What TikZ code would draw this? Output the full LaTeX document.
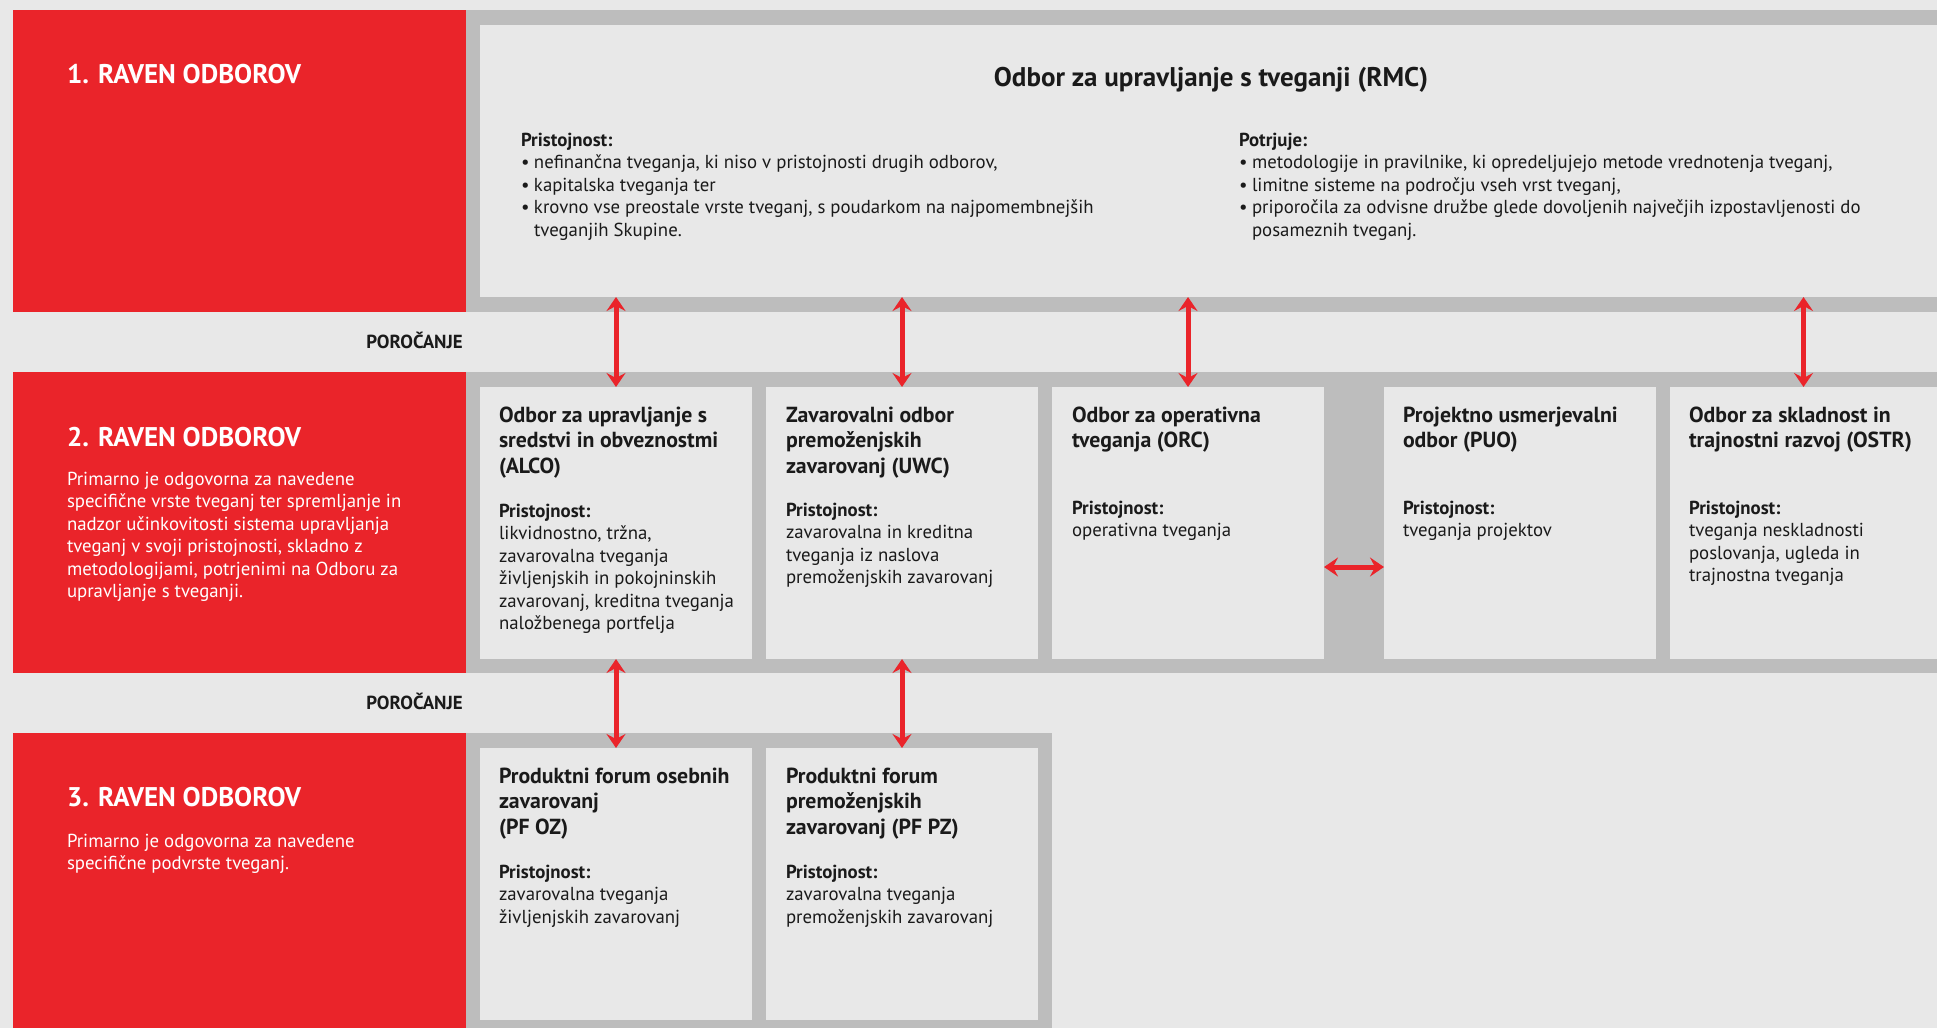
\documentclass[tikz,border=0pt]{standalone}
\usepackage{fontspec}
\setmainfont{PT Sans}
\usetikzlibrary{arrows.meta,calc}
\definecolor{rred}{HTML}{EA242A}
\definecolor{bandgray}{HTML}{BDBDBD}
\definecolor{bgl}{HTML}{E8E8E8}
\definecolor{ink}{HTML}{1A1A1A}
\newcommand{\tbx}[2]{\parbox[t]{#1}{\raggedright #2}}
\newcommand{\bul}{\makebox[13pt][l]{•}}
\newcommand{\lvlf}{\fontsize{27}{32}\selectfont\bfseries}
\newcommand{\bodyf}{\fontsize{18.8}{22.5}\selectfont}
\newcommand{\ttlf}{\fontsize{21.8}{25.5}\selectfont\bfseries}
\tikzset{
  lvl/.style={fill=rred, draw=none, inner sep=0pt, outer sep=0pt, anchor=north west},
  band/.style={fill=bandgray, draw=none, inner sep=0pt, outer sep=0pt, anchor=north west},
  cbox/.style={fill=bgl, draw=none, inner sep=0pt, outer sep=0pt, anchor=north west},
  txt/.style={anchor=base west, inner sep=0pt, outer sep=0pt, text=ink},
  wtxt/.style={anchor=base west, inner sep=0pt, outer sep=0pt, text=white},
  arr/.style={draw=rred, line width=5pt, {Stealth[length=14pt,width=19pt,inset=5pt]}-{Stealth[length=14pt,width=19pt,inset=5pt]}}
}
\begin{document}
\begin{tikzpicture}[x=1pt,y=-1pt]
\fill[bgl] (0,0) rectangle (1937,1028);
\useasboundingbox (0,0) rectangle (1937,1028);
% ---------- row 1
\node[lvl, minimum width=453pt, minimum height=302pt] (red1) at (13,10) {};
\node[band, minimum width=1471pt, minimum height=302pt] (band1) at (466,10) {};
\node[cbox, minimum width=1457pt, minimum height=272pt] (rmc) at (480,25) {};
\node[wtxt] (l1t) at (67,83) {\lvlf 1. RAVEN ODBOROV};
\node[anchor=base, inner sep=0pt, text=ink] (rmct) at (1211,86) {\fontsize{27}{30}\selectfont\bfseries Odbor za upravljanje s tveganji (RMC)};
\node[txt] (rmcl) at (521,146) {\tbx{650pt}{\bodyf{\bfseries Pristojnost:}\\
\bul nefinančna tveganja, ki niso v pristojnosti drugih odborov,\\
\bul kapitalska tveganja ter\\
\bul krovno vse preostale vrste tveganj, s poudarkom na najpomembnejših\\
\hspace*{13pt}tveganjih Skupine.}};
\node[txt] (rmcr) at (1239,146) {\tbx{690pt}{\bodyf{\bfseries Potrjuje:}\\
\bul metodologije in pravilnike, ki opredeljujejo metode vrednotenja tveganj,\\
\bul limitne sisteme na področju vseh vrst tveganj,\\
\bul priporočila za odvisne družbe glede dovoljenih največjih izpostavljenosti do\\
\hspace*{13pt}posameznih tveganj.}};
% ---------- reporting labels
\node[anchor=base east, inner sep=0pt, text=ink] (por1) at (463,348) {\fontsize{18.9}{22}\selectfont\bfseries POROČANJE};
\node[anchor=base east, inner sep=0pt, text=ink] (por2) at (463,709) {\fontsize{18.9}{22}\selectfont\bfseries POROČANJE};
% ---------- row 2
\node[lvl, minimum width=453pt, minimum height=301pt] (red2) at (13,372) {};
\node[band, minimum width=1471pt, minimum height=301pt] (band2) at (466,372) {};
\node[cbox, minimum width=272pt, minimum height=272pt] (alco) at (480,387) {};
\node[cbox, minimum width=272pt, minimum height=272pt] (uwc) at (766,387) {};
\node[cbox, minimum width=272pt, minimum height=272pt] (orc) at (1052,387) {};
\node[cbox, minimum width=272pt, minimum height=272pt] (puo) at (1384,387) {};
\node[cbox, minimum width=267pt, minimum height=272pt] (ostr) at (1670,387) {};
\node[wtxt] (l2t) at (67,446) {\lvlf 2. RAVEN ODBOROV};
\node[wtxt] (l2p) at (67,485) {\tbx{395pt}{\bodyf Primarno je odgovorna za navedene\\
specifične vrste tveganj ter spremljanje in\\
nadzor učinkovitosti sistema upravljanja\\
tveganj v svoji pristojnosti, skladno z\\
metodologijami, potrjenimi na Odboru za\\
upravljanje s tveganji.}};
\node[txt] (alcot) at (499,422) {\tbx{265pt}{\ttlf Odbor za upravljanje s\\ sredstvi in obveznostmi\\ (ALCO)}};
\node[txt] (alcob) at (499,517) {\tbx{265pt}{\bodyf{\bfseries Pristojnost:}\\ likvidnostno, tržna,\\ zavarovalna tveganja\\ življenjskih in pokojninskih\\ zavarovanj, kreditna tveganja\\ naložbenega portfelja}};
\node[txt] (uwct) at (786,422) {\tbx{265pt}{\ttlf Zavarovalni odbor\\ premoženjskih\\ zavarovanj (UWC)}};
\node[txt] (uwcb) at (786,516) {\tbx{265pt}{\bodyf{\bfseries Pristojnost:}\\ zavarovalna in kreditna\\ tveganja iz naslova\\ premoženjskih zavarovanj}};
\node[txt] (orct) at (1072,422) {\tbx{265pt}{\ttlf Odbor za operativna\\ tveganja (ORC)}};
\node[txt] (orcb) at (1072,514) {\tbx{265pt}{\bodyf{\bfseries Pristojnost:}\\ operativna tveganja}};
\node[txt] (puot) at (1403,422) {\tbx{265pt}{\ttlf Projektno usmerjevalni\\ odbor (PUO)}};
\node[txt] (puob) at (1403,514) {\tbx{265pt}{\bodyf{\bfseries Pristojnost:}\\ tveganja projektov}};
\node[txt] (ostrt) at (1689,422) {\tbx{265pt}{\ttlf Odbor za skladnost in\\ trajnostni razvoj (OSTR)}};
\node[txt] (ostrb) at (1689,514) {\tbx{265pt}{\bodyf{\bfseries Pristojnost:}\\ tveganja neskladnosti\\ poslovanja, ugleda in\\ trajnostna tveganja}};
% ---------- row 3
\node[lvl, minimum width=453pt, minimum height=295pt] (red3) at (13,733) {};
\node[band, minimum width=586pt, minimum height=295pt] (band3) at (466,733) {};
\node[cbox, minimum width=272pt, minimum height=272pt] (pfoz) at (480,748) {};
\node[cbox, minimum width=272pt, minimum height=272pt] (pfpz) at (766,748) {};
\node[wtxt] (l3t) at (67,806) {\lvlf 3. RAVEN ODBOROV};
\node[wtxt] (l3p) at (67,847) {\tbx{395pt}{\bodyf Primarno je odgovorna za navedene\\ specifične podvrste tveganj.}};
\node[txt] (pfozt) at (499,783) {\tbx{265pt}{\ttlf Produktni forum osebnih\\ zavarovanj\\ (PF OZ)}};
\node[txt] (pfozb) at (499,878) {\tbx{265pt}{\bodyf{\bfseries Pristojnost:}\\ zavarovalna tveganja\\ življenjskih zavarovanj}};
\node[txt] (pfpzt) at (786,783) {\tbx{265pt}{\ttlf Produktni forum\\ premoženjskih\\ zavarovanj (PF PZ)}};
\node[txt] (pfpzb) at (786,878) {\tbx{265pt}{\bodyf{\bfseries Pristojnost:}\\ zavarovalna tveganja\\ premoženjskih zavarovanj}};
% ---------- arrows
\draw[arr] (alco.north |- rmc.south) -- (alco.north);
\draw[arr] (uwc.north |- rmc.south) -- (uwc.north);
\draw[arr] (orc.north |- rmc.south) -- (orc.north);
\draw[arr] (ostr.north |- rmc.south) -- (ostr.north);
\draw[arr] (alco.south) -- (pfoz.north);
\draw[arr] (uwc.south) -- (pfpz.north);
\coordinate (hy) at (0,567);
\draw[arr] (orc.east |- hy) -- (puo.west |- hy);
\end{tikzpicture}
\end{document}
